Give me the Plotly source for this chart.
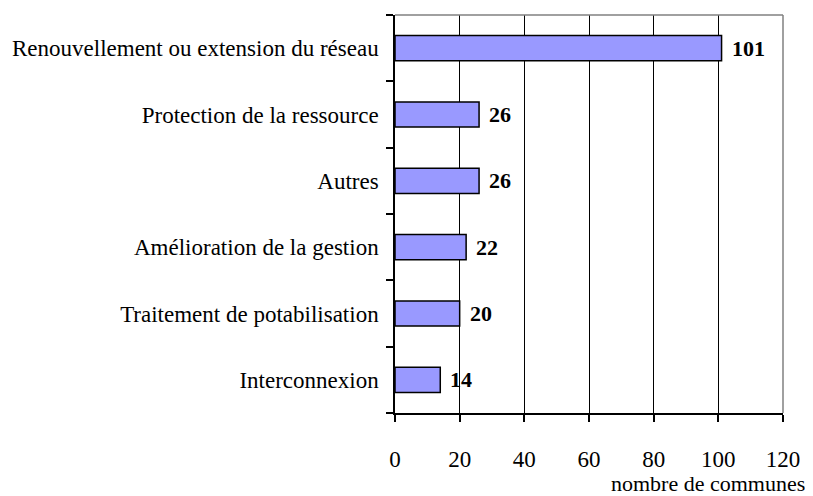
import plotly.graph_objects as go

categories = ["Renouvellement ou extension du réseau", "Protection de la ressource", "Autres",
              "Amélioration de la gestion", "Traitement de potabilisation", "Interconnexion"]
values = [101, 26, 26, 22, 20, 14]
tick_vals = [0, 20, 40, 60, 80, 100, 120]
x_title = "nombre de communes"

FONT = "Liberation Serif, Times New Roman, serif"

fig = go.Figure()
fig.add_trace(go.Bar(
    y=categories, x=values, orientation="h",
    marker=dict(color="#9999FF", line=dict(color="black", width=1.5)),
    width=0.38,
))

annotations = [dict(x=v, y=c, text=str(v), xanchor="left", xshift=8, showarrow=False,
                    font=dict(family=FONT, size=22, color="black", weight="bold"))
               for c, v in zip(categories, values)]
annotations.append(dict(text=x_title, xref="paper", yref="paper", x=1.062, y=0, xanchor="right",
                        yanchor="top", yshift=-56, showarrow=False, font=dict(size=22)))

fig.update_layout(
    width=805, height=488,
    margin=dict(l=387, r=30, t=7, b=83),
    paper_bgcolor="white", plot_bgcolor="white",
    showlegend=False,
    font=dict(family=FONT, size=23, color="black"),
    xaxis=dict(range=[0, 120], tickvals=tick_vals, showgrid=True, gridcolor="black", gridwidth=1,
               showline=True, linecolor="black", linewidth=1.5, ticks="outside", ticklen=7,
               tickcolor="black", tickwidth=1.5, zeroline=False, automargin=False,
               ticklabelstandoff=18, tickfont=dict(size=23)),
    yaxis=dict(categoryorder="array", categoryarray=categories[::-1], showline=True,
               linecolor="black", linewidth=1.5, ticks="outside", tickson="boundaries",
               ticklen=7, tickcolor="black", tickwidth=1.5, showgrid=False, automargin=False,
               ticklabelstandoff=10, tickfont=dict(size=23)),
    shapes=[
        dict(type="line", xref="paper", yref="paper", x0=0, x1=1, y0=1, y1=1,
             line=dict(color="gray", width=1.5)),
        dict(type="line", xref="paper", yref="paper", x0=1, x1=1, y0=0, y1=1,
             line=dict(color="gray", width=1.5)),
    ],
    annotations=annotations,
)

fig.write_html("out.html")
